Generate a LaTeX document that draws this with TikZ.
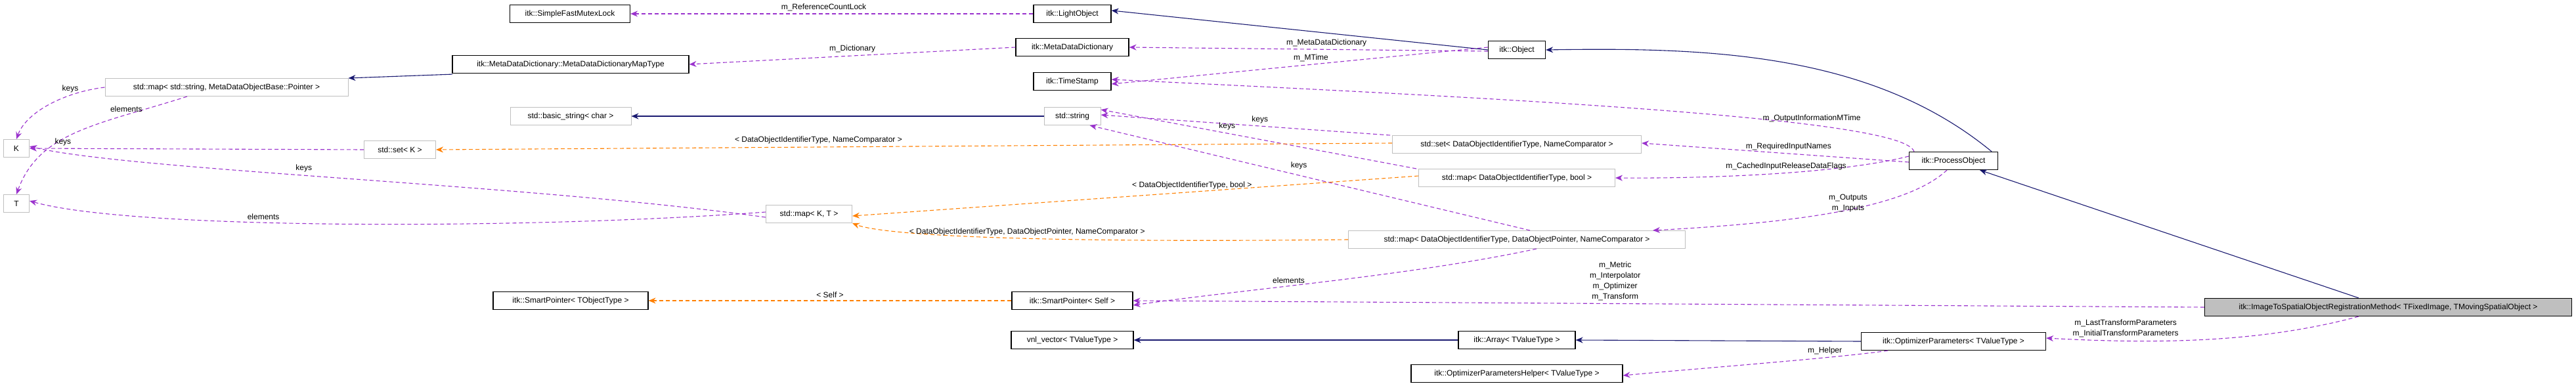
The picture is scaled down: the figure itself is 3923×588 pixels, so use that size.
\documentclass[tikz,border=0pt]{standalone}
\usepackage{fontspec}
\setmainfont{Liberation Sans}
\usetikzlibrary{arrows.meta}
\begin{document}
\begin{tikzpicture}[x=1pt,y=-1pt,
  every node/.style={font=\fontsize{12}{15}\selectfont},
  cls/.style={draw=black, line width=1.2pt, fill=white, minimum height=27, inner sep=2pt},
  ext/.style={draw=black!25, line width=1pt, fill=white, minimum height=27, inner sep=2pt},
  cur/.style={cls, fill=black!25},
  lbl/.style={align=center, inner sep=4pt, text=black, font=\fontsize{12}{16}\selectfont},
  tip/.style={-{Stealth[length=11pt,width=9pt]}},
  use/.style={tip, dashed, dash pattern=on 6pt off 4pt, color={rgb,255:red,154;green,50;blue,205}, line width=1.1pt},
  tmpl/.style={tip, dashed, dash pattern=on 6pt off 4pt, color=orange, line width=1.1pt},
  inh/.style={tip, color={rgb,255:red,25;green,25;blue,112}, line width=1.1pt}]
\useasboundingbox (0,0) rectangle (3923,588);
% nodes
\node[cls, minimum width=183] (sfml) at (868,21) {itk::SimpleFastMutexLock};
\node[cls, minimum width=360] (mdmt) at (869,98) {itk::MetaDataDictionary::MetaDataDictionaryMapType};
\node[ext, minimum width=370] (mapmd) at (345,133) {std::map< std::string, MetaDataObjectBase::Pointer >};
\node[ext, minimum width=184] (bstr) at (869,177) {std::basic\_string< char >};
\node[ext, minimum width=39] (K) at (25,226) {K};
\node[ext, minimum width=109] (setK) at (609,228) {std::set< K >};
\node[ext, minimum width=39] (T) at (25,310) {T};
\node[cls, minimum width=236] (spto) at (869,458) {itk::SmartPointer< TObjectType >};
\node[cls, minimum width=118] (lo) at (1633,21) {itk::LightObject};
\node[cls, minimum width=172] (mdd) at (1633,72) {itk::MetaDataDictionary};
\node[cls, minimum width=118] (ts) at (1633,124) {itk::TimeStamp};
\node[ext, minimum width=86] (str) at (1633,177) {std::string};
\node[cls, minimum width=87] (obj) at (2310,76) {itk::Object};
\node[ext, minimum width=379] (setdo) at (2310,220) {std::set< DataObjectIdentifierType, NameComparator >};
\node[ext, minimum width=299] (mapb) at (2310,271) {std::map< DataObjectIdentifierType, bool >};
\node[ext, minimum width=131] (mapkt) at (1232,326) {std::map< K, T >};
\node[ext, minimum width=513] (mapdo) at (2310,365) {std::map< DataObjectIdentifierType, DataObjectPointer, NameComparator >};
\node[cls, minimum width=184] (sps) at (1633,458) {itk::SmartPointer< Self >};
\node[cls, minimum width=186] (vnl) at (1633,518) {vnl\_vector< TValueType >};
\node[cls, minimum width=178] (arr) at (2310,518) {itk::Array< TValueType >};
\node[cls, minimum width=322] (oph) at (2310,569) {itk::OptimizerParametersHelper< TValueType >};
\node[cls, minimum width=135] (po) at (2975,245) {itk::ProcessObject};
\node[cur, minimum width=559] (main) at (3637,468) {itk::ImageToSpatialObjectRegistrationMethod< TFixedImage, TMovingSpatialObject >};
\node[cls, minimum width=281] (opp) at (2975,520) {itk::OptimizerParameters< TValueType >};
% edges
\draw[use] (lo.west) -- node[lbl, above, pos=0.52] {m\_ReferenceCountLock} (sfml.east);
\draw[inh] (obj.west) -- ([yshift=5]lo.east);
\draw[inh] (po.north east) ++(-10,0) .. controls (2850,80) and (2600,72) .. (obj.east);
\draw[use] ([yshift=-2]obj.west) -- node[lbl, above, pos=0.45] {m\_MetaDataDictionary} (mdd.east);
\draw[use] ([yshift=4]obj.west) -- node[lbl, above, pos=0.47] {m\_MTime} ([yshift=-4]ts.east);
\draw[use] ([xshift=8]po.north west) .. controls (2900,180) and (2300,150) .. node[lbl, above, pos=0.3] {m\_OutputInformationMTime} ([yshift=3]ts.east);
\draw[use] (mdd.west) -- node[lbl, above, pos=0.5] {m\_Dictionary} (mdmt.east);
\draw[inh] ([xshift=-50,yshift=-1]mdmt.south) ++(-130,0) -- (mapmd.north east);
\draw[use] (mapmd.west) .. controls (100,140) and (40,170) .. node[lbl, above, pos=0.3] {keys} (K.north);
\draw[use] ([xshift=-60]mapmd.south) .. controls (150,190) and (60,200) .. node[lbl, above, pos=0.25] {elements} (T.north);
\draw[inh] (str.west) -- (bstr.east);
\draw[use] ([xshift=-3]setdo.north west) -- node[lbl, above, pos=0.45] {keys} ([yshift=2]str.east);
\draw[use] ([xshift=-3]mapb.north west) -- node[lbl, above, pos=0.6] {keys} ([yshift=10]str.east);
\draw[use] ([xshift=20]mapdo.north) -- node[lbl, above right, pos=0.55] {keys} ([xshift=-17]str.south east);
\draw[tmpl] ([yshift=2]setdo.west) -- node[lbl, above, pos=0.6] {< DataObjectIdentifierType, NameComparator >} (setK.east);
\draw[use] (setK.west) -- node[lbl, above, pos=0.9] {keys} (K.east);
\draw[use] ([yshift=-5]mapkt.west) .. controls (800,280) and (200,260) .. node[lbl, above, pos=0.55] {keys} ([yshift=3]K.east);
\draw[use] ([yshift=3]mapkt.west) .. controls (800,350) and (200,350) .. node[lbl, above, pos=0.6] {elements} ([yshift=4]T.east);
\draw[tmpl] ([yshift=3]mapb.west) -- node[lbl, above, pos=0.4] {< DataObjectIdentifierType, bool >} ([yshift=-3]mapkt.east);
\draw[tmpl] (mapdo.west) .. controls (1600,370) and (1350,360) .. node[lbl, above, pos=0.45] {< DataObjectIdentifierType, DataObjectPointer, NameComparator >} ([yshift=0]mapkt.south east);
\draw[tmpl] (sps.west) -- node[lbl, above, pos=0.5] {< Self >} (spto.east);
\draw[use] ([xshift=30]mapdo.south) .. controls (2150,420) and (1900,440) .. node[lbl, above, pos=0.6] {elements} ([yshift=-7]sps.east);
\draw[use] ([yshift=-2]po.west) -- node[lbl, above, pos=0.45] {m\_RequiredInputNames} ([yshift=2]setdo.east);
\draw[use] ([yshift=7]po.west) .. controls (2800,265) and (2600,272) .. node[lbl, above, pos=0.45] {m\_CachedInputReleaseDataFlags} (mapb.east);
\draw[use] ([xshift=-10]po.south) .. controls (2900,320) and (2720,340) .. node[lbl, pos=0.35, left=10pt] {m\_Outputs\\m\_Inputs} ([xshift=-50]mapdo.north east);
\draw[use] (main.west) -- node[lbl, above, pos=0.55] {m\_Metric\\m\_Interpolator\\m\_Optimizer\\m\_Transform} ([yshift=0]sps.east);
\draw[inh] ([xshift=-45]main.north) -- ([xshift=40]po.south);
\draw[use] ([xshift=-45]main.south) .. controls (3450,520) and (3300,525) .. node[lbl, above left, pos=0.6] {m\_LastTransformParameters\\m\_InitialTransformParameters} ([yshift=5]opp.east);
\draw[inh] (opp.west) -- (arr.east);
\draw[inh] (arr.west) -- (vnl.east);
\draw[use] ([xshift=-100]opp.south) .. controls (2800,545) and (2600,560) .. node[lbl, above, pos=0.3] {m\_Helper} ([yshift=-3]oph.east);
\end{tikzpicture}
\end{document}
